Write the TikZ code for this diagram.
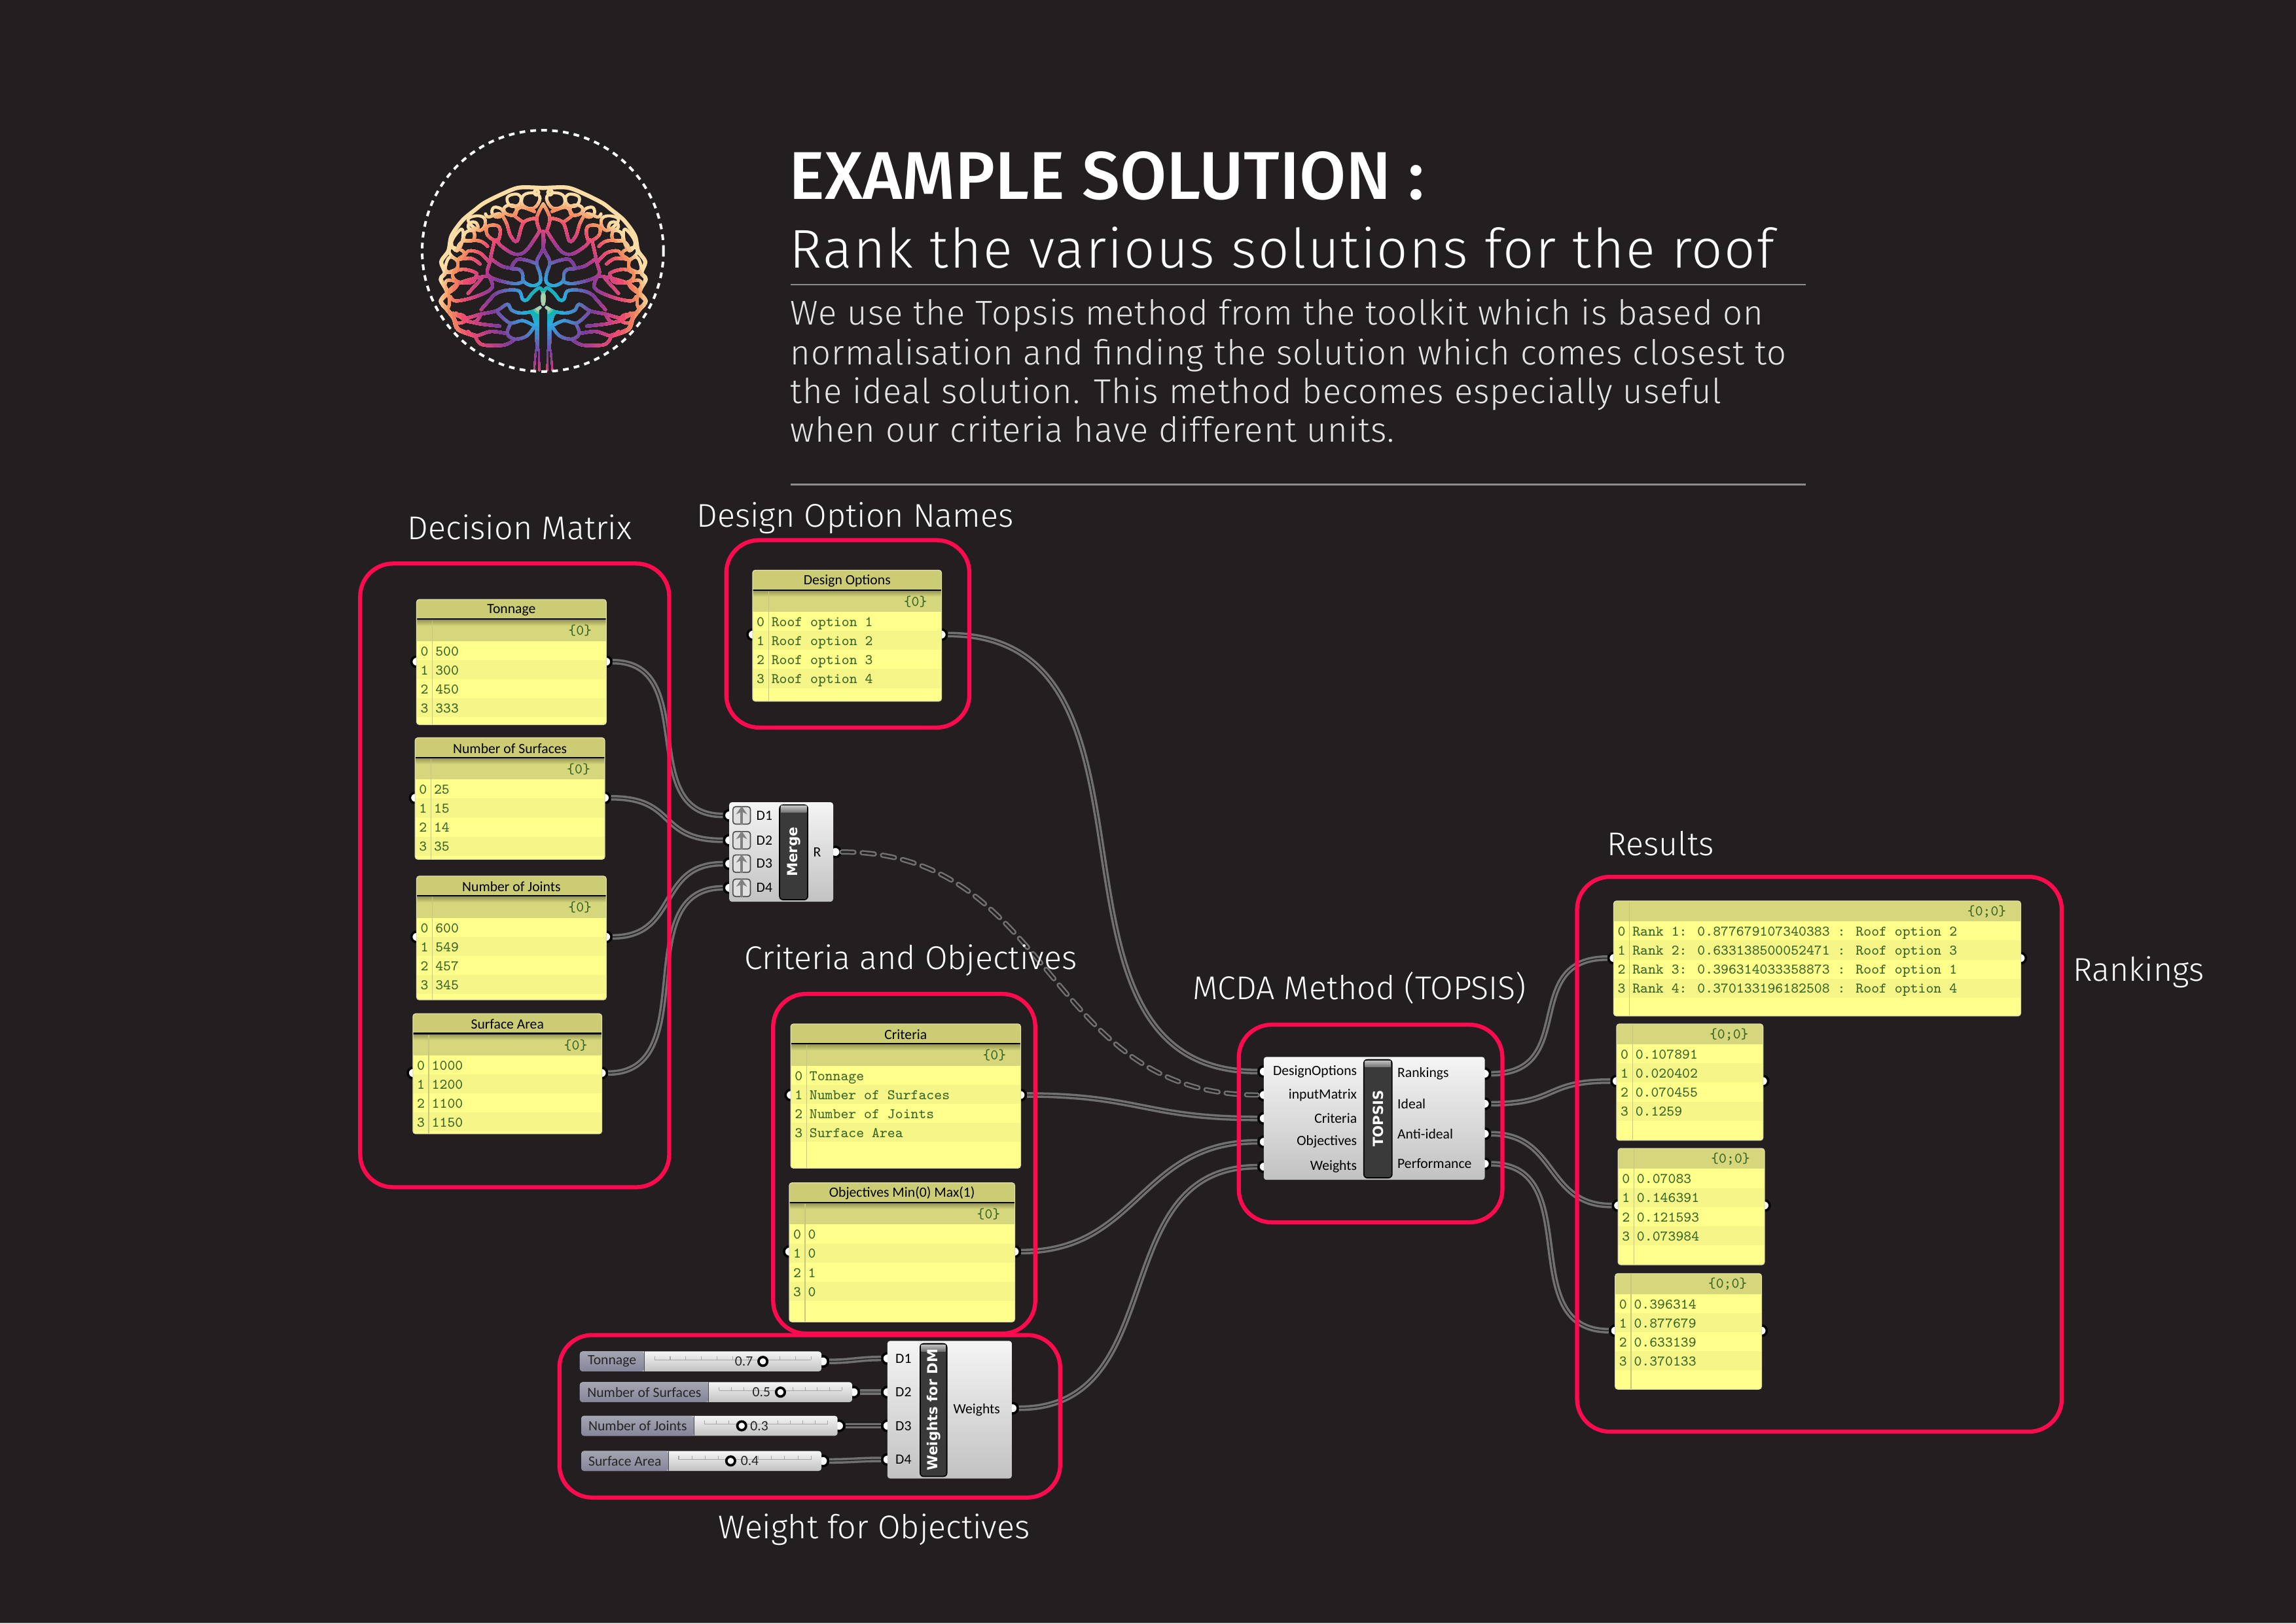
\documentclass[tikz,border=0pt]{standalone}
\usepackage{fontspec}
\usetikzlibrary{arrows.meta}
\setmainfont{Carlito}
\newfontfamily\dinlight[LetterSpace=2.2]{Fira Sans Light}
\newfontfamily\dinsub[LetterSpace=2.6]{Fira Sans Light}
\newfontfamily\dinlabel{Fira Sans Light}
\newfontfamily\dinbook{Fira Sans Medium}
\newfontfamily\tabfont{DejaVu Sans}

\definecolor{bgcol}{HTML}{231F20}
\definecolor{redframe}{HTML}{FF0A4E}
\definecolor{rowlight}{HTML}{FFFF8C}
\definecolor{rowdark}{HTML}{F5F588}
\definecolor{headlight}{HTML}{D6D67C}
\definecolor{titlecol}{HTML}{CCCC74}
\definecolor{rulecol}{HTML}{C8C87A}
\definecolor{greentext}{HTML}{3A6628}
\definecolor{wiregray}{HTML}{707070}
\definecolor{tabcol}{HTML}{3A3A3A}
\definecolor{sliderhi}{HTML}{A5A6B2}
\definecolor{sliderlo}{HTML}{84859A}
% colours of the logo, from the root outwards
\definecolor{brcream}{HTML}{FBDDA5}
\definecolor{brorange}{HTML}{F78F5E}
\definecolor{brpink}{HTML}{EF4B72}
\definecolor{brmagenta}{HTML}{B33A90}
\definecolor{brpurple}{HTML}{7C3E9E}
\definecolor{brblue}{HTML}{4A7FC4}
\definecolor{brcyan}{HTML}{29AAE2}
\definecolor{brteal}{HTML}{10B5B0}

\newcommand\vein[1]{\draw plot[smooth,tension=.6] coordinates {#1};}
\newcommand\veincell[1]{\draw plot[smooth cycle,tension=.7] coordinates {#1};}

\newcommand\brainveins{%
  \foreach \mir in {1,-1} {
  \begin{scope}[xscale=\mir,line width=1.1pt,line cap=round,line join=round]
    \fill (20,900) -- (18,1100) -- (35,1100) -- (38,985) -- (50,940) -- (64,920) -- cycle;
    \draw[line width=.6pt] (20,1095) -- (18,1190);
    \draw[line width=.6pt] (34,1095) -- (42,1190);
    \vein{(15,900)(50,918)(105,925)(145,912)(165,885)(215,915)(285,930)(360,948)(415,925)}
    \vein{(0,885)(-4,850)(15,810)(50,835)(75,865)(95,862)(110,825)(160,820)(215,835)(250,870)(285,910)}
    \vein{(0,550)(0,625)(30,690)(15,745)(15,785)(50,800)(90,780)(95,745)(110,725)(145,720)(120,680)(70,685)(30,700)}
    \vein{(90,780)(140,790)(250,755)(245,690)(225,600)}
    \vein{(20,555)(80,640)(130,655)(190,620)(215,590)}
    \veincell{(205,590)(197,550)(210,525)(250,525)(262,545)(250,575)(215,595)}
    \vein{(145,720)(190,710)(235,680)}
    \vein{(250,755)(235,810)(310,850)(400,870)(425,850)}
    \vein{(250,755)(310,765)(390,790)(440,830)}
    \vein{(285,770)(345,835)}
    \vein{(15,550)(30,490)(0,425)}
    \vein{(30,490)(90,510)(120,595)(150,570)(170,510)(200,470)(250,485)(265,470)}
    \vein{(40,460)(100,440)(125,460)(130,480)(90,510)}
    \veincell{(105,390)(130,380)(165,395)(155,430)(125,435)(105,420)}
    \veincell{(125,440)(155,430)(180,445)(170,470)(130,475)}
    \veincell{(190,450)(225,440)(235,465)(215,485)(185,475)}
    \veincell{(40,375)(90,385)(95,430)(45,445)(15,400)}
    \veincell{(310,510)(335,510)(345,530)(325,545)(300,535)}
    \veincell{(320,550)(355,555)(362,590)(320,590)}
    \veincell{(270,490)(310,480)(345,500)(300,545)(270,530)}
    \vein{(255,620)(290,595)(365,595)(390,620)}
    \vein{(250,690)(290,650)(340,640)(360,660)(390,680)(395,720)(440,740)}
    \vein{(290,700)(330,675)(390,680)}
    \veincell{(310,740)(370,725)(415,745)(395,780)(330,785)(310,760)}
    \veincell{(400,680)(430,670)(448,710)(440,735)(400,735)(392,700)}
    \veincell{(370,640)(420,625)(430,650)(395,680)(365,665)}
    \veincell{(375,540)(420,600)(395,640)(370,590)}
    \vein{(215,915)(155,970)(95,960)(40,985)}
    \vein{(40,985)(75,1030)(130,1045)(165,1020)(150,975)}
    \vein{(165,1020)(240,1010)(310,1030)(345,1010)}
    \vein{(130,1045)(180,1072)(280,1070)(310,1035)}
    \vein{(200,985)(290,975)(355,960)}
    \vein{(285,930)(310,965)(355,960)(400,925)}
    \veincell{(355,960)(370,935)(410,935)(395,970)}
    \veincell{(392,790)(440,775)(450,810)(430,830)}
    \veincell{(440,835)(470,870)(445,905)(430,880)}
    \veincell{(20,372)(32,360)(42,372)(32,385)}
    \draw[line width=1.5pt] plot[smooth,tension=.5] coordinates {(0,352)(110,350)(190,380)(270,420)(310,450)(370,500)(420,570)(435,640)(468,690)(450,740)(470,770)(440,830)(470,870)(440,910)(410,950)(390,1000)(310,1030)};
  \end{scope}}%
}

% name, left, right, top, bottom, port y, title, tree, rows
\newcommand\datapanel[9]{%
  \def\paneltitle{#7}%
  \ifx\paneltitle\empty\def\panelhead{14}\else\def\panelhead{28.5}\fi
  \pgfmathsetmacro\rowtop{#4+\panelhead}%
  \node[portdot] (#1In) at (#2,#6) {};
  \node[portdot] (#1Out) at (#3,#6) {};
  \begin{scope}
    \clip[rounded corners=1pt] (#2,#4) rectangle (#3,#5);
    \fill[rowlight] (#2,#4) rectangle (#3,#5);
    \fill[headlight] (#2,#4) rectangle (#3,\rowtop);
    \foreach \row in {1,3}
      \fill[rowdark] (#2,\rowtop+\row*13) rectangle (#3,\rowtop+\row*13+13);
    \ifx\paneltitle\empty\else
      \fill[titlecol] (#2,#4) rectangle (#3,#4+13.5);
      \shade[top color=titlecol!70!black,bottom color=headlight] (#2,#4+13.5) rectangle (#3,#4+18);
      \draw[black,line width=.5pt] (#2,#4+13.5) -- (#3,#4+13.5);
    \fi
    \draw[rulecol,line width=.3pt] (#2+10.8,\rowtop-14) -- (#2+10.8,#5);
  \end{scope}
  \draw[draw=titlecol!60!white,line width=.3pt,rounded corners=1pt] (#2,#4) rectangle (#3,#5);
  \ifx\paneltitle\empty\else
    \node[titletext] (#1Title) at ({(#2+#3)/2},#4+7.2) {#7};
  \fi
  \node[rowtext,anchor=base east] (#1Tree) at (#3-9.5,\rowtop-4) {#8};
  \foreach \val [count=\i from 0] in {#9} {
    \node[rowtext,anchor=base] (#1n\i) at (#2+5.4,\rowtop+10+\i*13) {\i};
    \node[rowtext,anchor=base west] (#1v\i) at (#2+12.5,\rowtop+10+\i*13) {\val};
  }
}

% name, left, top, right, bottom, tab left, tab right, tab text
\newcommand\grasscomp[8]{%
  \shade[top color=white!96!black,bottom color=white!76!black,rounded corners=1pt]
    (#2,#3) rectangle (#4,#5);
  \fill[black,rounded corners=1.5pt] (#6,#3+1.5) rectangle (#7,#5-1);
  \fill[tabcol,rounded corners=1pt] (#6+.8,#3+2.3) rectangle (#7-.8,#5-1.8);
  \shade[top color=white!75!black,bottom color=white!45!black] (#6+1.2,#3+2.6) rectangle (#7-1.2,#3+7);
  \node[tabtext,rotate=90] (#1Tab) at ({(#6+#7)/2},{(#3+#5)/2}) {#8};
}

% name, left, split, right, y, label, knob x, value x, value
\newcommand\numslider[9]{%
  \node[portdot] (#1Out) at (#4+1,#5) {};
  \shade[top color=white!96!black,bottom color=white!76!black,rounded corners=1pt]
    (#2,#5-6.8) rectangle (#4,#5+6.8);
  \shade[top color=sliderhi,bottom color=sliderlo,rounded corners=1pt]
    (#2,#5-6.8) rectangle (#3,#5+6.8);
  \draw[black!70,line width=.3pt] (#3,#5-6.8) -- (#3,#5+6.8);
  \draw[black!35,line width=.25pt] (#3+7,#5-1) -- (#4-7,#5-1);
  \foreach \tick in {0,...,10}
    \draw[black!35,line width=.25pt] ({#3+7+\tick*(#4-#3-14)/10},#5-3.5) -- ++(0,2.5);
  \node[slidertext,anchor=center] (#1Name) at ({(#2+#3)/2},#5) {#6};
  \node[slidertext,anchor=center] (#1Val) at (#8,#5) {#9};
  \node[circle,draw=black,fill=white,line width=.9pt,inner sep=0pt,minimum size=3.2pt] (#1Knob) at (#7,#5) {};
}

\begin{document}
\begin{tikzpicture}[x=.537pt,y=-.537pt,
portdot/.style={circle,draw=black,fill=white,line width=.85pt,inner sep=0pt,minimum size=3.8pt},
titletext/.style={font=\fontsize{5.2}{6}\selectfont,text=black,inner sep=0pt},
rowtext/.style={font=\ttfamily\fontsize{5.38}{6}\selectfont,text=greentext,inner sep=0pt},
tabtext/.style={font=\tabfont\bfseries\fontsize{5.1}{6}\selectfont,text=white,inner sep=0pt},
slidertext/.style={font=\fontsize{5.2}{6}\selectfont,text=black!85,inner sep=0pt},
complabel/.style={font=\fontsize{5.2}{6}\selectfont,text=black,inner sep=0pt},
iconbtn/.style={draw=black!70,fill=white!88!black,rounded corners=1pt,minimum size=6.4pt,inner sep=0pt,line width=.4pt},
wire/.style={draw=wiregray,line width=.85pt,double=bgcol,double distance=.35pt},
dashwire/.style={draw=wiregray,line width=1.9pt,line cap=round,dash pattern=on 4.5pt off 3pt,
  postaction={draw=bgcol,line width=.7pt,dash pattern=on 4.5pt off 3pt}},
redbox/.style={draw=redframe,line width=1.5pt,rounded corners=12pt},
sectionlabel/.style={font=\dinlabel\fontsize{12.05}{14}\selectfont,text=white,inner sep=0pt},
bodyline/.style={font=\dinlight\fontsize{12.6}{14}\selectfont,text=white!90!black,inner sep=0pt,anchor=base west}
]
    \fill[bgcol] (0,0) rectangle (1568,1109);
    \fill[white!55!black] (0,1108.5) rectangle (1568,1109);

    % logo
    \begin{scope}[shift={(371,76)},x=.08pt,y=-.08pt]
      \begin{scope}[color=brcream]
        \brainveins
      \end{scope}
      \foreach \rout/\rin/\ca/\cb in {490/440/brcream/brorange,440/380/brorange/brpink,
        380/300/brpink/brmagenta,300/245/brmagenta/brpurple,245/170/brpurple/brblue,
        170/110/brblue/brcyan,110/65/brcyan/brteal,65/35/brteal/brcream}
      \foreach \st in {0,33,67} {
        \pgfmathsetmacro\rad{\rout-(\rout-\rin)*\st/100}
        \colorlet{bandcol}{\cb!\st!\ca}
        \begin{scope}[color=bandcol]
          \clip (0,880) circle [radius=\rad];
          \brainveins
        \end{scope}
      }
    \end{scope}
    \node[circle,draw=white,line width=.95pt,dash pattern=on 2.1pt off 1.9pt,minimum size=88.5pt,inner sep=0pt] (ring) at (370.7,171.4) {};

    % heading
    \node[font=\dinbook\fontsize{24.8}{30}\selectfont,text=white,inner sep=0pt,anchor=base west] (head) at (538.5,136) {EXAMPLE SOLUTION :};
    \node[font=\dinsub\fontsize{20}{24}\selectfont,text=white,inner sep=0pt,anchor=base west] (sub) at (539,183) {Rank the various solutions for the roof};
    \coordinate (ruleA) at (540,194.5);
    \coordinate (ruleAe) at (1233,194.5);
    \draw[white!55!black,line width=.5pt] (ruleA) -- (ruleAe);
    \node[bodyline] (line1) at (539.5,222) {We use the Topsis method from the toolkit which is based on};
    \node[bodyline] (line2) at (539.5,249) {normalisation and finding the solution which comes closest to};
    \node[bodyline] (line3) at (539.5,275.5) {the ideal solution. This method becomes especially useful};
    \node[bodyline] (line4) at (539.5,302) {when our criteria have different units.};
    \coordinate (ruleB) at (540,331);
    \coordinate (ruleBe) at (1233,331);
    \draw[white!55!black,line width=.5pt] (ruleB) -- (ruleBe);

    % panels
    \datapanel{ton}{284.5}{414}{409.5}{495}{452}{Tonnage}{\{0\}}{500,300,450,333}
    \datapanel{sur}{283.5}{413}{504}{587}{545}{Number of Surfaces}{\{0\}}{25,15,14,35}
    \datapanel{joi}{284.5}{414}{598.5}{683}{640}{Number of Joints}{\{0\}}{600,549,457,345}
    \datapanel{are}{282}{411}{692.5}{774.5}{733}{Surface Area}{\{0\}}{1000,1200,1100,1150}
    \datapanel{opt}{514}{643}{389.5}{479}{433.5}{Design Options}{\{0\}}{Roof option 1,Roof option 2,Roof option 3,Roof option 4}
    \datapanel{cri}{540}{697}{699.5}{798}{748}{Criteria}{\{0\}}{Tonnage,Number of Surfaces,Number of Joints,Surface Area}
    \datapanel{obj}{539}{693}{808}{903}{855}{Objectives Min(0) Max(1)}{\{0\}}{0,0,1,0}
    \datapanel{ran}{1102}{1380}{615.5}{694}{654.5}{}{\{0;0\}}{Rank 1: 0.877679107340383 : Roof option 2,Rank 2: 0.633138500052471 : Roof option 3,Rank 3: 0.396314033358873 : Roof option 1,Rank 4: 0.370133196182508 : Roof option 4}
    \datapanel{ide}{1104}{1204}{699.5}{779}{738.5}{}{\{0;0\}}{0.107891,0.020402,0.070455,0.1259}
    \datapanel{ant}{1105}{1205}{784.5}{864}{823.5}{}{\{0;0\}}{0.07083,0.146391,0.121593,0.073984}
    \datapanel{per}{1103}{1203}{870}{949}{909}{}{\{0;0\}}{0.396314,0.877679,0.633139,0.370133}

    % merge
    \foreach \nm/\yy in {merD1/557,merD2/574,merD3/590,merD4/606.5}
      \node[portdot] (\nm) at (498,\yy) {};
    \node[portdot] (merR) at (570.5,582) {};
    \grasscomp{mer}{498}{548}{569}{616}{532}{552}{Merge}
    \foreach \lab/\nm/\yy in {D1/merB1/557,D2/merB2/574,D3/merB3/590,D4/merB4/606.5} {
      \node[iconbtn] (\nm) at (506.5,\yy) {};
      \draw[-{Stealth[length=3pt,width=4pt]},black!50,line width=1pt] (\nm.south) -- (\nm.north);
      \node[complabel] (\nm L) at (522,\yy) {\lab};
    }
    \node[complabel] (merRL) at (558,582) {R};

    % topsis
    \foreach \nm/\yy in {tpDes/732,tpInp/748,tpCri/764,tpObj/780,tpWei/797}
      \node[portdot] (\nm) at (863,\yy) {};
    \foreach \nm/\yy in {tpRan/733.5,tpIde/754,tpAnt/774.5,tpPer/795}
      \node[portdot] (\nm) at (1014,\yy) {};
    \grasscomp{tp}{863}{722}{1014}{806}{931}{951}{TOPSIS}
    \foreach \lab/\nm/\yy in {DesignOptions/tpDes/732,inputMatrix/tpInp/748,Criteria/tpCri/764,Objectives/tpObj/780,Weights/tpWei/797}
      \node[complabel,anchor=east] (\nm L) at (927,\yy) {\lab};
    \foreach \lab/\nm/\yy in {Rankings/tpRan/733.5,Ideal/tpIde/754,Anti-ideal/tpAnt/774.5,Performance/tpPer/795}
      \node[complabel,anchor=west] (\nm L) at (954,\yy) {\lab};

    % sliders
    \numslider{slTon}{396}{440}{561}{930}{Tonnage}{521}{508}{0.7}
    \numslider{slSur}{396}{484}{582}{951}{Number of Surfaces}{533}{520}{0.5}
    \numslider{slJoi}{397}{474}{572}{974}{Number of Joints}{506.5}{518.5}{0.3}
    \numslider{slAre}{397}{456.5}{561}{998}{Surface Area}{499}{512}{0.4}

    % weights
    \foreach \nm/\yy in {wfD1/928,wfD2/951,wfD3/974,wfD4/997}
      \node[portdot] (\nm) at (606,\yy) {};
    \node[portdot] (wfOut) at (691.5,962) {};
    \grasscomp{wf}{606}{916}{691}{1010}{628}{647}{Weights for DM}
    \foreach \lab/\nm/\yy in {D1/wfD1/928,D2/wfD2/951,D3/wfD3/974,D4/wfD4/997}
      \node[complabel] (\nm L) at (617,\yy) {\lab};
    \node[complabel] (wfOutL) at (667,963) {Weights};

    % wires
    \draw[wire] (tonOut) .. controls +(65,0) and +(-65,0) .. (merD1);
    \draw[wire] (surOut) .. controls +(50,0) and +(-50,0) .. (merD2);
    \draw[wire] (joiOut) .. controls +(50,0) and +(-50,0) .. (merD3);
    \draw[wire] (areOut) .. controls +(70,0) and +(-70,0) .. (merD4);
    \draw[wire] (optOut) .. controls +(170,0) and +(-170,0) .. (tpDes);
    \draw[dashwire] (merR) .. controls +(150,0) and +(-150,0) .. (tpInp);
    \draw[wire] (criOut) .. controls +(80,0) and +(-80,0) .. (tpCri);
    \draw[wire] (objOut) .. controls +(85,0) and +(-85,0) .. (tpObj);
    \draw[wire] (wfOut) .. controls +(110,0) and +(-110,0) .. (tpWei);
    \draw[wire] (tpRan) .. controls +(65,0) and +(-65,0) .. (ranIn);
    \draw[wire] (tpIde) .. controls +(50,0) and +(-50,0) .. (ideIn);
    \draw[wire] (tpAnt) .. controls +(50,0) and +(-50,0) .. (antIn);
    \draw[wire] (tpPer) .. controls +(70,0) and +(-70,0) .. (perIn);
    \draw[wire] (slTonOut) .. controls +(20,0) and +(-20,0) .. (wfD1);
    \draw[wire] (slSurOut) .. controls +(10,0) and +(-10,0) .. (wfD2);
    \draw[wire] (slJoiOut) .. controls +(15,0) and +(-15,0) .. (wfD3);
    \draw[wire] (slAreOut) .. controls +(20,0) and +(-20,0) .. (wfD4);

    % frames
    \draw[redbox] (246,385) rectangle (457,811);
    \draw[redbox] (496,369) rectangle (662,497);
    \draw[redbox] (528,679) rectangle (707,911);
    \draw[redbox] (382,912) rectangle (724,1023);
    \draw[redbox] (846,700) rectangle (1026,835);
    \draw[redbox] (1077,599) rectangle (1408,978);

    % labels
    \node[sectionlabel] (lbDec) at (355,360) {Decision Matrix};
    \node[sectionlabel] (lbDes) at (584,354) {Design Option Names};
    \node[sectionlabel] (lbCri) at (622,656) {Criteria and Objectives};
    \node[sectionlabel] (lbMcd) at (928.5,675) {MCDA Method (TOPSIS)};
    \node[sectionlabel] (lbRes) at (1134,576) {Results};
    \node[sectionlabel] (lbRan) at (1460.5,664) {Rankings};
    \node[sectionlabel] (lbWei) at (597,1045) {Weight for Objectives};
\end{tikzpicture}
\end{document}
